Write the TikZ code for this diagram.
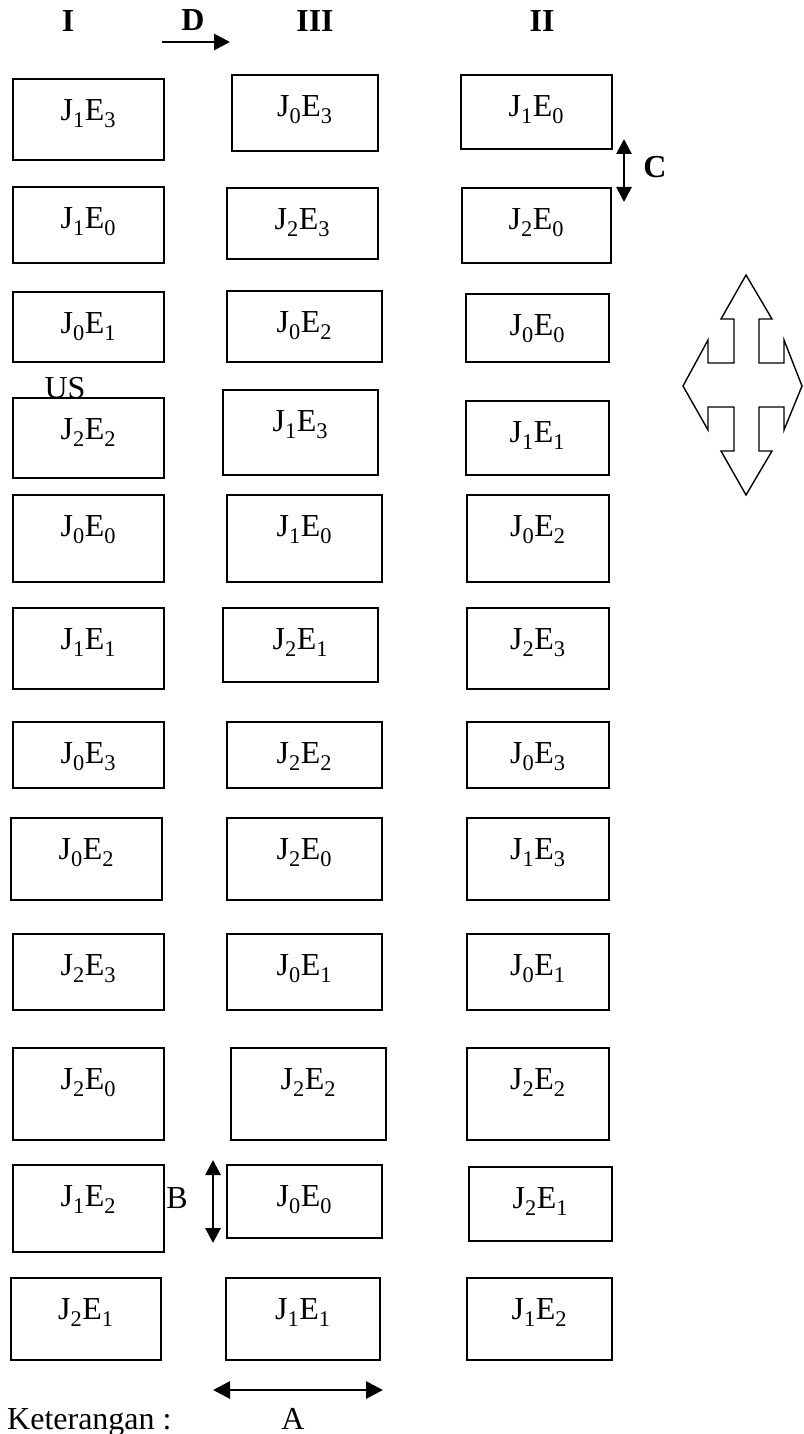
\documentclass[tikz,border=0pt]{standalone}
\usepackage{fontspec}
\setmainfont{Liberation Serif}
\usetikzlibrary{arrows.meta}
\newcommand{\JE}[2]{J\textsubscript{#1}E\textsubscript{#2}}
\tikzset{
  plotbox/.style={draw, line width=1.8pt, inner sep=0pt, text height=42pt, anchor=north west},
  headlabel/.style={font=\fontsize{32}{38}\selectfont\bfseries, anchor=base},
  dimline/.style={line width=2.8pt, {Triangle[length=15pt,width=15pt]}-{Triangle[length=15pt,width=15pt]}},
}
\begin{document}
\begin{tikzpicture}[x=1pt, y=-1pt, font=\fontsize{32}{38}\selectfont]
\useasboundingbox (0,0) rectangle (803,1434);
% column heads
\node[headlabel] (hI) at (68,32) {I};
\node[headlabel] (hD) at (193,31) {D};
\node[headlabel] (hIII) at (315,32) {III};
\node[headlabel] (hII) at (542,32) {II};
\coordinate (d0) at (162,42);
\coordinate (d1) at (230,42);
\draw[line width=2.8pt, -{Triangle[length=16pt,width=16pt]}] (d0) -- (d1);
% column I
\node[plotbox, minimum width=151pt, text depth=39pt] (I1) at (12,78) {\JE13};
\node[plotbox, minimum width=151pt, text depth=34pt] (I2) at (12,186) {\JE10};
\node[plotbox, minimum width=151pt, text depth=28pt] (I3) at (12,291) {\JE01};
\node[plotbox, minimum width=151pt, text depth=38pt] (I4) at (12,397) {\JE22};
\node[plotbox, minimum width=151pt, text depth=45pt] (I5) at (12,494) {\JE00};
\node[plotbox, minimum width=151pt, text depth=39pt] (I6) at (12,607) {\JE11};
\node[plotbox, minimum width=151pt, text depth=24pt] (I7) at (12,721) {\JE03};
\node[plotbox, minimum width=151pt, text depth=40pt] (I8) at (10,817) {\JE02};
\node[plotbox, minimum width=151pt, text depth=34pt] (I9) at (12,933) {\JE23};
\node[plotbox, minimum width=151pt, text depth=50pt] (I10) at (12,1047) {\JE20};
\node[plotbox, minimum width=151pt, text depth=45pt] (I11) at (12,1164) {\JE12};
\node[plotbox, minimum width=150pt, text depth=40pt] (I12) at (10,1277) {\JE21};
% column III
\node[plotbox, minimum width=146pt, text depth=34pt] (III1) at (231,74) {\JE03};
\node[plotbox, minimum width=151pt, text depth=29pt] (III2) at (226,187) {\JE23};
\node[plotbox, minimum width=155pt, text depth=29pt] (III3) at (226,290) {\JE02};
\node[plotbox, minimum width=155pt, text depth=43pt] (III4) at (222,389) {\JE13};
\node[plotbox, minimum width=155pt, text depth=45pt] (III5) at (226,494) {\JE10};
\node[plotbox, minimum width=155pt, text depth=32pt] (III6) at (222,607) {\JE21};
\node[plotbox, minimum width=155pt, text depth=24pt] (III7) at (226,721) {\JE22};
\node[plotbox, minimum width=155pt, text depth=40pt] (III8) at (226,817) {\JE20};
\node[plotbox, minimum width=155pt, text depth=34pt] (III9) at (226,933) {\JE01};
\node[plotbox, minimum width=155pt, text depth=50pt] (III10) at (230,1047) {\JE22};
\node[plotbox, minimum width=155pt, text depth=31pt] (III11) at (226,1164) {\JE00};
\node[plotbox, minimum width=154pt, text depth=40pt] (III12) at (225,1277) {\JE11};
% column II
\node[plotbox, minimum width=151pt, text depth=32pt] (II1) at (460,74) {\JE10};
\node[plotbox, minimum width=149pt, text depth=33pt] (II2) at (461,187) {\JE20};
\node[plotbox, minimum width=143pt, text depth=26pt] (II3) at (465,293) {\JE00};
\node[plotbox, minimum width=143pt, text depth=32pt] (II4) at (465,400) {\JE11};
\node[plotbox, minimum width=142pt, text depth=45pt] (II5) at (466,494) {\JE02};
\node[plotbox, minimum width=142pt, text depth=39pt] (II6) at (466,607) {\JE23};
\node[plotbox, minimum width=142pt, text depth=24pt] (II7) at (466,721) {\JE03};
\node[plotbox, minimum width=142pt, text depth=40pt] (II8) at (466,817) {\JE13};
\node[plotbox, minimum width=142pt, text depth=34pt] (II9) at (466,933) {\JE01};
\node[plotbox, minimum width=142pt, text depth=50pt] (II10) at (466,1047) {\JE22};
\node[plotbox, minimum width=143pt, text depth=32pt] (II11) at (468,1166) {\JE21};
\node[plotbox, minimum width=145pt, text depth=40pt] (II12) at (466,1277) {\JE12};
% labels and distances
\node[anchor=base] (us) at (65,398) {US};
\node[headlabel] (lC) at (655,178) {C};
\node[anchor=base] (lB) at (177,1208) {B};
\node[anchor=base] (lA) at (293,1429) {A};
\node[anchor=base west, inner sep=0pt] (ket) at (7,1429) {Keterangan :};
\coordinate (c0) at (624,139);
\coordinate (c1) at (624,202);
\draw[dimline] (c0) -- (c1);
\coordinate (b0) at (213,1160);
\coordinate (b1) at (213,1243);
\draw[dimline] (b0) -- (b1);
\coordinate (a0) at (213,1390);
\coordinate (a1) at (383,1390);
\draw[line width=2.8pt, {Triangle[length=17pt,width=17pt]}-{Triangle[length=17pt,width=17pt]}] (a0) -- (a1);
% compass
\draw[line width=1.4pt] (746,275) -- (772,319) -- (759,319) -- (759,363) -- (784,363) -- (784,340)
  -- (802,386) -- (784,430) -- (784,407) -- (759,407) -- (759,451) -- (772,451)
  -- (746,495) -- (721,451) -- (734,451) -- (734,407) -- (708,407) -- (708,430)
  -- (683,386) -- (708,340) -- (708,363) -- (734,363) -- (734,319) -- (721,319) -- cycle;
\end{tikzpicture}
\end{document}
